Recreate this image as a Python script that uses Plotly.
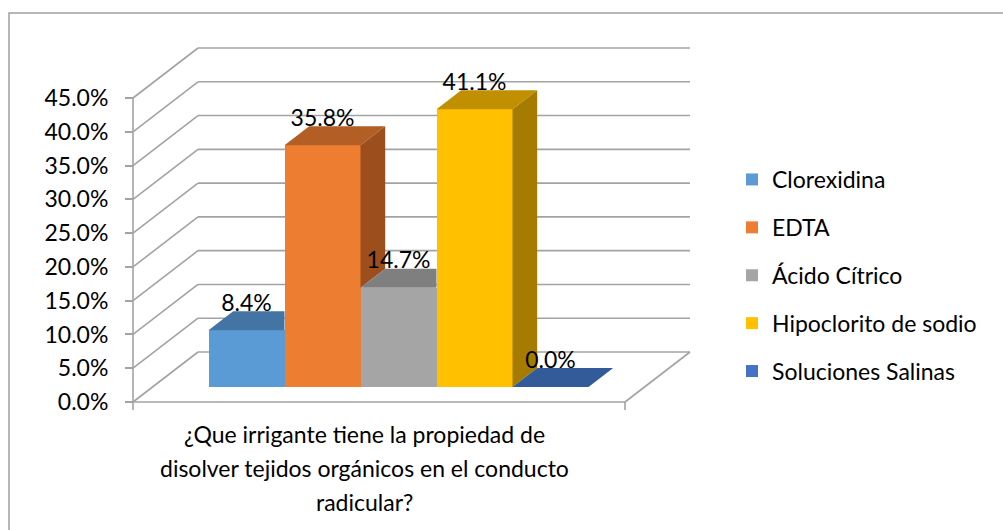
import plotly.graph_objects as go

# ---- data ----
series = ["Clorexidina", "EDTA", "Ácido Cítrico", "Hipoclorito de sodio", "Soluciones Salinas"]
values = [8.4, 35.8, 14.7, 41.1, 0.0]
front_colors = ["#5B9BD5", "#ED7D31", "#A5A5A5", "#FFC000", "#4472C4"]
top_colors = ["#4474A3", "#B35E24", "#7F7F7F", "#C09000", "#335A99"]
side_colors = ["#3A6690", "#9C4F1C", "#6E6E6E", "#A67C00", "#2E5089"]
tick_values = [0, 5, 10, 15, 20, 25, 30, 35, 40, 45]
tick_labels = ["0.0%", "5.0%", "10.0%", "15.0%", "20.0%", "25.0%", "30.0%", "35.0%", "40.0%", "45.0%"]
category_lines = ["¿Que irrigante tiene la propiedad de",
                  "disolver tejidos orgánicos en el conducto",
                  "radicular?"]

# ---- geometry (pixel-like x axis, value y axis) ----
W, H = 1003, 530
ZERO_PX = 402.0
K = 304.0 / 45.0           # px per percent
def dv(px):
    return px / K
Y_TOP = ZERO_PX / K
Y_BOT = -(H - ZERO_PX) / K

FX0, FX1 = 133.0, 625.0     # floor front edge
DX, DZ = 65.0, dv(50.0)     # full depth offset
Z0, Z1 = 0.30, 0.68         # bar depth span
BW = 76.0
dd = (Z1 - Z0) * DX
b0, b1 = Z0 * DZ, Z1 * DZ
n = len(values)
group_left = (FX0 + FX1) / 2 + Z0 * DX - n * BW / 2
font = "Lato, Carlito, 'Open Sans', sans-serif"
FS = 23
grid_col = "#A3A3A3"

fig = go.Figure()

# front faces as bars
for i, (name, v) in enumerate(zip(series, values)):
    L = group_left + i * BW
    fig.add_trace(go.Bar(x=[L + BW / 2], y=[v], base=[b0], width=[BW], name=name,
                         marker=dict(color=front_colors[i], line=dict(width=0)),
                         legendgroup=name, hoverinfo="skip"))

# top and side faces
for i, v in enumerate(values):
    L = group_left + i * BW
    R = L + BW
    nxt = values[i + 1] if i + 1 < n else 0.0
    ft, bt = v + b0, v + b1
    if i + 1 < n and nxt > v:
        tx = [L, R, R, L + dd, L]
    else:
        tx = [L, R, R + dd, L + dd, L]
    ty = [ft, ft, bt, bt, ft]
    fig.add_trace(go.Scatter(x=tx, y=ty, fill="toself", mode="lines",
                             fillcolor=top_colors[i], line=dict(width=0, color=top_colors[i]),
                             showlegend=False, hoverinfo="skip"))
    if nxt < v:
        sx = [R, R, R + dd, R + dd, R]
        sy = [nxt + b0, ft, bt, nxt + b1, nxt + b0]
        fig.add_trace(go.Scatter(x=sx, y=sy, fill="toself", mode="lines",
                                 fillcolor=side_colors[i], line=dict(width=0, color=side_colors[i]),
                                 showlegend=False, hoverinfo="skip"))

# data labels
lab_x = [group_left + i * BW + BW / 2 for i in range(n)]
lab_y = [v + b1 + dv(6) for v in values]
fig.add_trace(go.Scatter(x=lab_x, y=lab_y, mode="text",
                         text=[f"{v:.1f}%" for v in values], textposition="middle center",
                         textfont=dict(family=font, size=FS, color="#000000"),
                         showlegend=False, hoverinfo="skip"))

shapes = []
def seg(x0, y0, x1, y1, col=grid_col, w=1.6):
    shapes.append(dict(type="line", xref="x", yref="y", x0=x0, y0=y0, x1=x1, y1=y1,
                       line=dict(color=col, width=w), layer="below"))

for t in tick_values:
    seg(FX0, t, FX0 + DX, t + DZ)                    # side wall
    seg(FX0 + DX, t + DZ, FX1 + DX, t + DZ)          # back wall
seg(FX0, 0, FX1, 0)                                  # floor front
seg(FX1, 0, FX1 + DX, DZ)                            # floor right
seg(FX0, 0, FX0, tick_values[-1])                    # value axis line
seg(FX0, 0, FX0, -dv(8))                             # category ticks
seg(FX1, 0, FX1, -dv(8))

# chart frame
shapes.append(dict(type="rect", xref="paper", yref="paper", x0=9 / W, y0=-0.2,
                   x1=1.2, y1=1 - 13 / H, line=dict(color="#A0A0A0", width=1.5),
                   layer="below"))

annotations = []
for line, py in zip(category_lines, [434, 468, 502]):
    annotations.append(dict(x=364, y=(ZERO_PX - py) / K, xref="x", yref="y",
                            text=line, showarrow=False, xanchor="center", yanchor="middle",
                            font=dict(family=font, size=FS, color="#000000")))

fig.update_layout(
    width=W, height=H, margin=dict(l=0, r=0, t=0, b=0),
    paper_bgcolor="white", plot_bgcolor="white",
    barmode="overlay", bargap=0,
    xaxis=dict(range=[0, W], visible=False, domain=[0, 1], fixedrange=True),
    yaxis=dict(range=[Y_BOT, Y_TOP], anchor="free", position=FX0 / W,
               tickmode="array", tickvals=tick_values, ticktext=tick_labels,
               ticks="outside", ticklen=8, tickwidth=1.5, tickcolor=grid_col,
               showgrid=False, zeroline=False, showline=False, fixedrange=True,
               ticklabelstandoff=12,
               tickfont=dict(family=font, size=FS, color="#000000")),
    legend=dict(x=732 / W, y=1 - 158 / H, xanchor="left", yanchor="top",
                font=dict(family=font, size=FS, color="#000000"),
                tracegroupgap=15, bgcolor="rgba(0,0,0,0)"),
    shapes=shapes, annotations=annotations, showlegend=True,
)

fig.write_html("out.html", config={"displayModeBar": False},
               post_script="document.body.style.margin='0px';")
